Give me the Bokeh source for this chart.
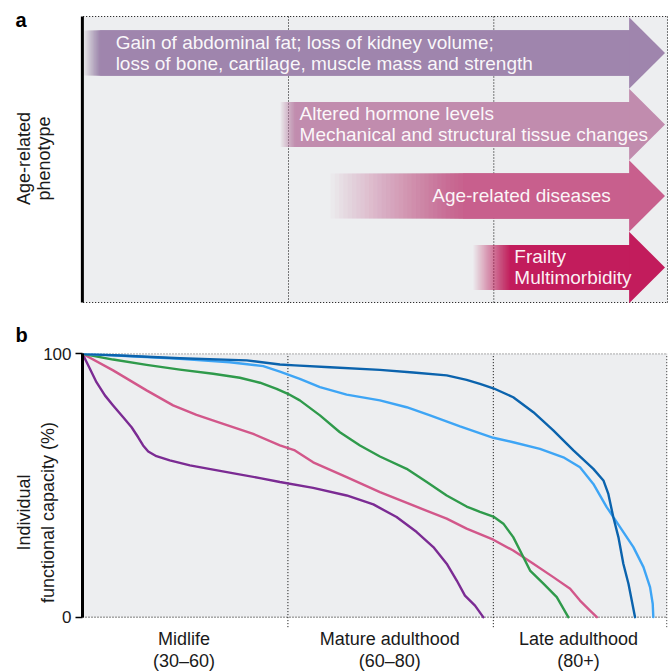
import numpy as np
from bokeh.plotting import figure
from bokeh.models import Range1d, FixedTicker
from bokeh.embed import file_html
from bokeh.resources import INLINE
from bokeh.core.properties import value

FONT = "Liberation Sans"
BG = "#edeef0"
INK = "#1a1a1a"

# Life stages along the horizontal axis (one unit per stage; the last is open-ended)
stage_names = ["Midlife\n(30–60)", "Mature adulthood\n(60–80)", "Late adulthood\n(80+)"]
stage_dividers = [1.0, 2.0]
stage_label_pos = [0.494, 1.496, 2.415]
X_END = 2.848

# Panel a: phenotypes, where each begins to appear and where it is fully established
phenotypes = [
    "Gain of abdominal fat; loss of kidney volume;\nloss of bone, cartilage, muscle mass and strength",
    "Altered hormone levels\nMechanical and structural tissue changes",
    "Age-related diseases",
    "Frailty\nMultimorbidity",
]
fade_start = [0.0, 0.96, 1.205, 1.90]
established = [0.084, 1.034, 1.85, 2.08]
text_start = [0.158, 1.054, 1.70, 2.10]
arrow_colors = ["#9f85ad", "#c18cae", "#c85f8d", "#c21c5c"]

# Panel b: individual functional capacity (%) trajectories
blue_dark_x = [0, 0.474, 0.799, 0.961, 1.034, 1.205, 1.448, 1.610, 1.773, 1.870, 1.935, 2.0, 2.097,
               2.195, 2.292, 2.390, 2.487, 2.536, 2.560, 2.584, 2.609, 2.633, 2.658, 2.690]
blue_dark_y = [100, 98.3, 97.5, 95.9, 95.6, 94.9, 93.9, 92.9, 91.8, 90.1, 88.6, 86.9, 83.5,
               77.8, 70.9, 63.3, 56.3, 51.9, 46.8, 38.0, 30.4, 20.3, 12.7, 0]

blue_light_x = [0, 0.474, 0.717, 0.880, 0.961, 1.058, 1.156, 1.286, 1.448, 1.578, 1.692, 1.838, 2.0,
                2.097, 2.227, 2.341, 2.422, 2.487, 2.552, 2.617, 2.682, 2.731, 2.763, 2.776, 2.779]
blue_light_y = [100, 98.1, 96.8, 95.3, 93.2, 90.5, 87.3, 84.5, 82.3, 79.7, 76.6, 72.4, 68.1,
                66.4, 63.9, 60.7, 56.9, 50.6, 41.8, 34.2, 26.6, 19.0, 11.4, 5.1, 0]

green_x = [0, 0.149, 0.312, 0.474, 0.636, 0.766, 0.864, 0.945, 1.0, 1.058, 1.156, 1.253, 1.351, 1.448,
           1.578, 1.676, 1.773, 1.870, 1.935, 2.0, 2.049, 2.097, 2.138, 2.179, 2.244, 2.309, 2.365]
green_y = [100, 97.8, 95.8, 94.0, 92.4, 90.9, 89.0, 86.7, 84.8, 82.3, 76.6, 70.2, 65.2, 61.0,
           56.3, 51.3, 46.2, 42.0, 40.0, 38.2, 35.5, 30.4, 24.1, 17.7, 12.7, 7.6, 0]

pink_x = [0, 0.149, 0.312, 0.441, 0.555, 0.685, 0.831, 0.961, 1.034, 1.123, 1.286, 1.448, 1.610,
          1.773, 1.870, 1.935, 2.0, 2.097, 2.195, 2.292, 2.374, 2.422, 2.471, 2.504]
pink_y = [100, 93.7, 86.1, 80.4, 76.8, 73.4, 69.6, 65.2, 63.3, 58.8, 53.2, 47.5, 42.4,
          37.4, 33.6, 31.5, 29.4, 25.3, 20.3, 15.2, 10.8, 6.3, 2.5, 0]

purple_x = [0, 0.036, 0.068, 0.109, 0.149, 0.198, 0.239, 0.271, 0.295, 0.320, 0.360, 0.425, 0.523,
            0.636, 0.750, 0.864, 0.961, 1.123, 1.286, 1.416, 1.529, 1.627, 1.708, 1.773, 1.822,
            1.862, 1.911, 1.951]
purple_y = [100, 94.3, 89.2, 84.2, 80.4, 75.9, 72.1, 68.3, 65.2, 62.9, 61.1, 59.5, 57.6,
            56.0, 54.4, 52.8, 51.3, 49.1, 46.2, 42.8, 38.0, 32.3, 26.6, 20.3, 13.9,
            8.2, 4.4, 0]

trajectories = [
    (purple_x, purple_y, "#7b2b93"),
    (pink_x, pink_y, "#d2578a"),
    (green_x, green_y, "#2f9a4b"),
    (blue_light_x, blue_light_y, "#3ea5f5"),
    (blue_dark_x, blue_dark_y, "#0b63ad"),
]

DOT = dict(line_color="black", line_dash="1 2", line_width=1)

# ---------------- panel a: phenotype arrows ----------------
# rows run downwards; the frame covers the whole panel so the margin texts can be placed freely
ROW_TOP, ROW_BOTTOM = -0.51, 3.49
PA_H = 342
pa = figure(width=672, height=PA_H,
            x_range=Range1d(-0.4028, 2.8704), y_range=Range1d(-0.734 + PA_H / 71.497, -0.734),
            x_axis_type=None, y_axis_type=None, output_backend="svg", toolbar_location=None,
            min_border=0)
pa.outline_line_color = None
pa.background_fill_color = "white"
pa.xgrid.visible = False
pa.ygrid.visible = False

pa.quad(left=[0], right=[X_END], top=[ROW_TOP], bottom=[ROW_BOTTOM], fill_color=BG, line_color=None)
pa.segment(x0=[0, 0], y0=[ROW_TOP, ROW_BOTTOM], x1=[X_END, X_END], y1=[ROW_TOP, ROW_BOTTOM], **DOT)
pa.segment(x0=stage_dividers + [X_END - 0.002], y0=[ROW_TOP] * 3,
           x1=stage_dividers + [X_END - 0.002], y1=[ROW_BOTTOM] * 3, **DOT)

BODY_END = 2.662
TIP = 2.834
HALF_BODY = 0.315
HALF_HEAD = 0.5
N_FADE = 32

for row, (f0, f1, col) in enumerate(zip(fade_start, established, arrow_colors)):
    # stacked layers: after k layers the combined opacity is k / N_FADE
    starts = np.linspace(f0, f1, N_FADE)
    alphas = 1.0 / (N_FADE - np.arange(N_FADE))
    pa.quad(left=starts, right=[BODY_END] * N_FADE, top=row - HALF_BODY, bottom=row + HALF_BODY,
            fill_color=col, fill_alpha=alphas, line_color=None)
    pa.patch(x=[BODY_END - 0.003, TIP, BODY_END - 0.003], y=[row - HALF_HEAD, row, row + HALF_HEAD],
             fill_color=col, line_color=None)

pa.text(x=text_start, y=list(range(len(phenotypes))), text=phenotypes,
        text_font=value(FONT), text_font_size="19px", text_color="white", text_alpha=0.95,
        text_align="left", text_baseline="middle", text_line_height=1.0)

# vertical axis line and its title
pa.segment(x0=[-0.004], y0=[ROW_TOP], x1=[-0.004], y1=[ROW_BOTTOM], line_color="black", line_width=3)
pa.text(x=[-0.242], y=[1.476], text=["Age-related\nphenotype"], angle=np.pi / 2,
        text_font=value(FONT), text_font_size="18px", text_color=INK,
        text_align="center", text_baseline="middle", text_line_height=1.0)

# panel letters
pa.text(x=[-0.33, -0.33], y=[-0.455, 3.945], text=["a", "b"], text_font=value(FONT),
        text_font_style="bold", text_font_size="20px", text_color="black",
        text_baseline="alphabetic")

# ---------------- panel b: functional capacity ----------------
Y_LOW, Y_DIV = -20.63, -3.79
pb = figure(width=672, height=671 - PA_H, x_range=Range1d(0, X_END), y_range=Range1d(Y_LOW, 100.1),
            x_axis_type=None, output_backend="svg", toolbar_location=None,
            min_border_left=82, min_border_right=5, min_border_top=353 - PA_H, min_border_bottom=0)
pb.outline_line_color = None
pb.background_fill_color = "white"
pb.xgrid.visible = False
pb.ygrid.visible = False

pb.quad(left=[0], right=[X_END], bottom=[0], top=[100], fill_color=BG, line_color=None)
pb.segment(x0=[0, 0], y0=[0, 100], x1=[X_END, X_END], y1=[0, 100], **DOT)
pb.segment(x0=stage_dividers + [X_END - 0.003], y0=[Y_DIV] * 3,
           x1=stage_dividers + [X_END - 0.003], y1=[100] * 3, **DOT)

yb = pb.yaxis[0]
yb.ticker = FixedTicker(ticks=[0, 100])
yb.bounds = (0, 100)
yb.axis_line_width = 3
yb.axis_line_color = "black"
yb.major_tick_in = 0
yb.major_tick_out = 7
yb.major_tick_line_width = 1.5
yb.major_tick_line_color = "black"
yb.minor_tick_line_color = None
yb.major_label_text_font = FONT
yb.major_label_text_font_size = "17px"
yb.major_label_text_color = INK
yb.major_label_standoff = 4
yb.axis_label = "Individual\nfunctional capacity (%)"
yb.axis_label_text_font = FONT
yb.axis_label_text_font_style = "normal"
yb.axis_label_text_font_size = "18px"
yb.axis_label_text_color = INK
yb.axis_label_standoff = -18

for xs, ys, col in trajectories:
    pb.line(xs, ys, line_color=col, line_width=2.4, line_join="round", line_cap="round")

# life-stage names under each period
pb.text(x=stage_label_pos, y=[-12.45] * len(stage_names), text=stage_names,
        text_font=value(FONT), text_font_size="18px", text_color=INK,
        text_align="center", text_baseline="middle", text_line_height=1.1)

# the two panels are stacked as independent roots so each keeps its own frame geometry
open("out.html", "w").write(file_html([pa, pb], INLINE))
